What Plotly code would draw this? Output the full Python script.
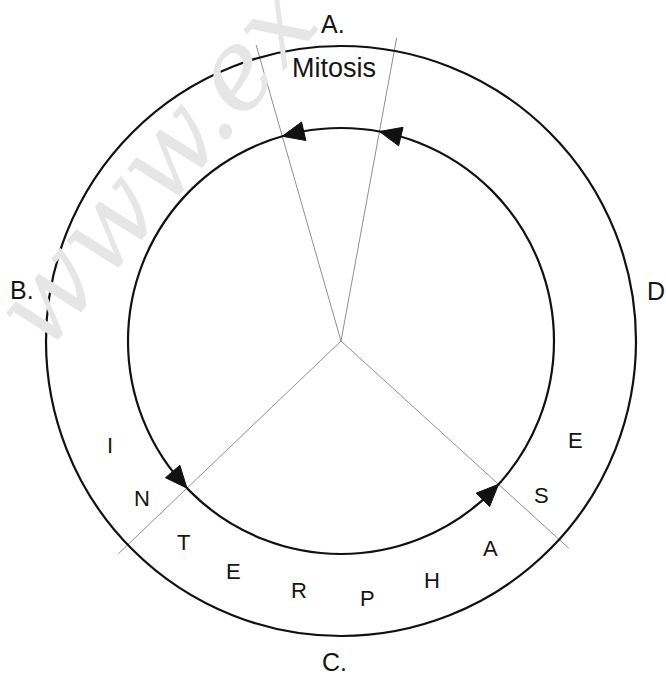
import numpy as np
import plotly.graph_objects as go

W, H = 666, 675

# ---- data ----
center_x, center_y = 341, 341
outer_r = 295
inner_r = 213
ray_angles_deg = [106.0, 79.6, 223.7, 317.7]   # math convention (counter-clockwise from east)
ray_len = 308

labels = ["A.", "Mitosis", "B.", "D", "C."]
label_x = [333, 333.5, 22, 656, 334.5]
label_y = [24, 67.5, 290, 291, 662]
label_sizes = [25, 27, 25, 25, 25]

letters = ["I", "N", "T", "E", "R", "P", "H", "A", "S", "E"]
letter_x = [110, 141.5, 183.5, 233, 299, 367.5, 432, 490, 541.5, 575.5]
letter_y = [445, 498, 542, 571, 590.5, 598, 580, 548, 495, 440.5]

watermark = "www.ex"

# ---- figure ----
fig = go.Figure()

def to_screen(r, ang_deg):
    a = np.deg2rad(ang_deg)
    return center_x + r * np.cos(a), center_y - r * np.sin(a)

# rays
for ang in ray_angles_deg:
    ex, ey = to_screen(ray_len, ang)
    fig.add_trace(go.Scatter(x=[center_x, ex], y=[center_y, ey], mode="lines",
                             line=dict(color="#8f8f8f", width=1), hoverinfo="skip",
                             showlegend=False))

shapes = []
# circles
for r in (outer_r, inner_r):
    shapes.append(dict(type="circle", xref="x", yref="y",
                       x0=center_x - r, x1=center_x + r,
                       y0=center_y - r, y1=center_y + r,
                       line=dict(color="#111111", width=2.2), fillcolor="rgba(0,0,0,0)"))

# arrowheads (tip at ray / inner circle intersection, motion counter-clockwise)
L, hw = 22, 9.5
for ang in ray_angles_deg:
    tx, ty = to_screen(inner_r, ang)
    bx, by = to_screen(inner_r, ang - np.rad2deg(L / inner_r))
    dx, dy = tx - bx, ty - by
    n = np.hypot(dx, dy)
    ux, uy = dx / n, dy / n
    px, py = -uy, ux
    p1 = (bx + px * hw, by + py * hw)
    p2 = (bx - px * hw, by - py * hw)
    path = f"M {tx:.2f},{ty:.2f} L {p1[0]:.2f},{p1[1]:.2f} L {p2[0]:.2f},{p2[1]:.2f} Z"
    shapes.append(dict(type="path", xref="x", yref="y", path=path,
                       fillcolor="#111111", line=dict(color="#111111", width=1)))

annotations = []
# watermark (faint, partly outside the page as in the reference)
annotations.append(dict(x=155, y=165, xref="x", yref="y", text=watermark, showarrow=False,
                        textangle=-50,
                        font=dict(family="DejaVu Serif", size=110, color="#e6e6e6",
                                  style="italic")))
for t, x, y, s in zip(labels, label_x, label_y, label_sizes):
    annotations.append(dict(x=x, y=y, xref="x", yref="y", text=t, showarrow=False,
                            xanchor="center", yanchor="middle",
                            font=dict(family="Liberation Sans", size=s, color="#151515")))
for t, x, y in zip(letters, letter_x, letter_y):
    annotations.append(dict(x=x, y=y, xref="x", yref="y", text=t, showarrow=False,
                            xanchor="center", yanchor="middle",
                            font=dict(family="Liberation Sans", size=22, color="#151515")))

fig.update_layout(width=W, height=H, margin=dict(l=0, r=0, t=0, b=0),
                  paper_bgcolor="white", plot_bgcolor="white",
                  shapes=shapes, annotations=annotations, showlegend=False,
                  xaxis=dict(range=[0, W], visible=False, fixedrange=True),
                  yaxis=dict(range=[H, 0], visible=False, fixedrange=True))

fig.write_html("out.html", config={"displayModeBar": False},
               post_script="document.body.style.margin='0';")
